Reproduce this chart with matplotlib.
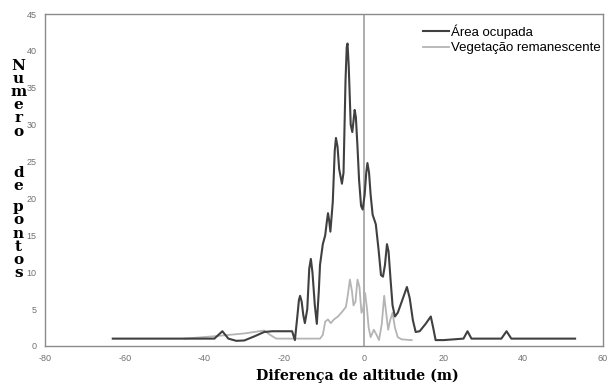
import matplotlib.pyplot as plt

plt.rcParams['axes.unicode_minus'] = False

# Distribution of point altitude differences
ocup_x = [-63, -37.5, -35.5, -34, -32, -30, -27.5, -25, -23, -18, -17.3, -16.6, -16.3, -16,
          -15.6, -15.2, -14.8, -14.2, -13.7, -13.3, -12.9, -12.3, -11.8, -11.3, -11,
          -10.3, -9.7, -9.3, -9, -8.7, -8.4, -7.8, -7.3, -7, -6.6, -6.2, -5.5, -5.1,
          -4.6, -4.3, -4.1, -3.8, -3.3, -2.9, -2.6, -2.3, -2, -1.6, -1.2, -0.7, -0.3,
          0.2, 0.6, 0.9, 1.3, 1.7, 2.2, 3, 3.7, 4.3, 4.8, 5.3, 5.8, 6.2, 6.7, 7.2,
          7.8, 8.5, 9.5, 10.8, 11.5, 12.3, 13, 14, 15.5, 16.8, 17.5, 18, 20, 25, 26,
          27, 34.5, 35.8, 37, 53]
ocup_y = [1, 1, 2, 1, 0.7, 0.75, 1.3, 1.9, 2, 2, 0.8, 4.5, 6.2, 6.8,
          6, 4.2, 3.1, 5, 10.5, 11.8, 10, 5.5, 3, 7.5, 11,
          13.8, 15, 16.8, 18, 17, 15.5, 19.5, 26.5, 28.2, 27, 24, 22, 23.5,
          36, 40.5, 41, 38, 30, 29, 30.5, 32, 31, 27, 22.5, 19, 18.5,
          20.5, 23.5, 24.8, 23.5, 20.5, 17.8, 16.5, 13, 9.6, 9.4, 11, 13.8, 12.8, 9, 5.5,
          4, 4.5, 6, 8, 6.5, 3.5, 1.9, 2, 3, 4, 2.2, 0.8, 0.8, 1, 2,
          1, 1, 2, 1, 1]

veg_x = [-45, -38, -30, -25, -23.5, -22, -11, -10.3, -9.7, -9, -8.3, -7.5, -6.5,
         -5.5, -4.5, -4, -3.5, -3, -2.6, -2.1, -1.6, -1.1, -0.6, -0.2, 0.3, 0.8,
         1.2, 1.7, 2.5, 3.2, 3.8, 4.5, 5.1, 5.6, 6.1, 6.6, 7.2, 7.8, 8.5, 9.5, 12]
veg_y = [1, 1.3, 1.7, 2.1, 1.5, 1, 1, 1.5, 3.3, 3.6, 3.1, 3.6, 4,
         4.6, 5.3, 7, 9, 7.5, 5.5, 6, 9, 8, 4.5, 5, 7.2, 5,
         2.5, 1.2, 2.2, 1.5, 0.8, 3, 6.8, 4.5, 2.2, 3.5, 4.5, 2.5, 1.2, 0.9, 0.8]

xticks = [-80, -60, -40, -20, 0, 20, 40, 60]
yticks = [0, 5, 10, 15, 20, 25, 30, 35, 40, 45]

fig = plt.figure(figsize=(6.1, 3.85), dpi=100)
ax = fig.add_axes([0.0738, 0.1013, 0.9147, 0.8623])

ax.axvline(0, color='#a8a8a8', linewidth=1.3, zorder=1)
ax.plot(ocup_x, ocup_y, color='#404040', linewidth=1.5, label='Área ocupada', zorder=3)
ax.plot(veg_x, veg_y, color='#b4b4b4', linewidth=1.3, label='Vegetação remanescente', zorder=2)

ax.set_xlim(-80, 60)
ax.set_ylim(0, 45)
ax.set_xticks(xticks)
ax.set_yticks(yticks)
ax.tick_params(length=0, labelsize=6.5, labelcolor='#707070', pad=6)
for lab in ax.get_xticklabels() + ax.get_yticklabels():
    lab.set_family('Liberation Sans')
for sp in ax.spines.values():
    sp.set_color('#8a8a8a')
    sp.set_linewidth(1)

ax.set_xlabel('Diferença de altitude (m)', family='DejaVu Serif', weight='bold',
              fontsize=10.3, labelpad=4, x=0.559)

# stacked vertical y label, one block per word
ylab_kw = dict(family='DejaVu Serif', weight='bold', fontsize=11, ha='center',
               va='top', linespacing=0.93)
fig.text(0.03, 0.848, 'N\nu\nm\ne\nr\no', **ylab_kw)
fig.text(0.03, 0.57, 'd\ne', **ylab_kw)
fig.text(0.03, 0.48, 'p\no\nn\nt\no\ns', **ylab_kw)

leg = ax.legend(loc='upper right', bbox_to_anchor=(1.005, 0.985), frameon=False,
                prop={'family': 'Liberation Sans', 'size': 9.5},
                handlelength=2.0, handletextpad=0.1, labelspacing=0.25,
                borderaxespad=0)

fig.savefig('out.png', dpi=100)
